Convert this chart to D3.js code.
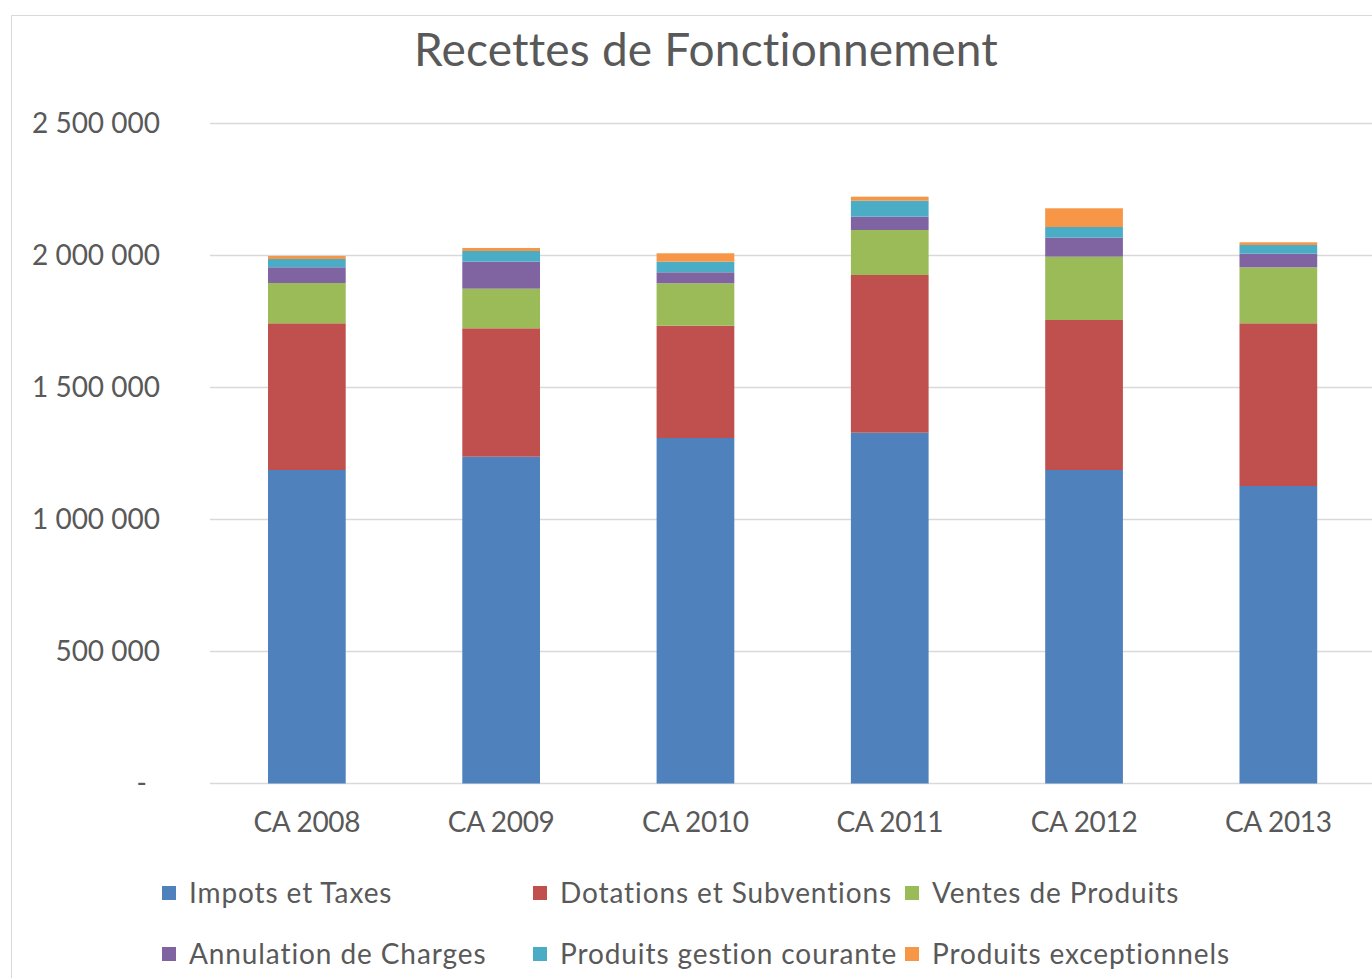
<!DOCTYPE html>
<html>
<head>
<meta charset="utf-8">
<script src="https://cdn.jsdelivr.net/npm/d3@7"></script>
<style>
  html, body { margin: 0; padding: 0; background: #fff; }
  svg { display: block; }
  text { font-family: Lato, "Open Sans", sans-serif; fill: #595959; }
</style>
</head>
<body>
<svg id="chart" width="1372" height="978"></svg>
<script>
// ---- data ----
const categories = ["CA 2008", "CA 2009", "CA 2010", "CA 2011", "CA 2012", "CA 2013"];
const seriesNames = ["Impots et Taxes", "Dotations et Subventions", "Ventes de Produits",
                     "Annulation de Charges", "Produits gestion courante", "Produits exceptionnels"];
const impots        = [1187500, 1237900, 1308700, 1328800, 1187500, 1126900];
const dotations     = [555700, 486400, 425400, 597300, 568200, 616300];
const ventes        = [152700, 150000, 160600, 170500, 239800, 212100];
const annulation    = [59500, 102300, 41700, 50400, 72000, 51500];
const gestion       = [31400, 40500, 40200, 60600, 40500, 33000];
const exceptionnels = [11400, 11400, 31800, 15200, 70800, 10200];
const yTicks = [0, 500000, 1000000, 1500000, 2000000, 2500000];
const yTickLabels = ["-", "500 000", "1 000 000", "1 500 000", "2 000 000", "2 500 000"];
const colors = ["#4F81BD", "#C0504D", "#9BBB59", "#8064A2", "#4BACC6", "#F79646"];
const title = "Recettes de Fonctionnement";

// ---- build ----
const seriesValues = [impots, dotations, ventes, annulation, gestion, exceptionnels];
const rows = categories.map((c, i) => {
  const r = { cat: c };
  seriesNames.forEach((s, k) => r[s] = seriesValues[k][i]);
  return r;
});
const stacked = d3.stack().keys(seriesNames)(rows);

const svg = d3.select("#chart");

// chart border
svg.append("path")
  .attr("d", "M11.5,978 L11.5,15.5 L1372,15.5")
  .attr("fill", "none").attr("stroke", "#D9D9D9").attr("stroke-width", 1);

const x = d3.scaleBand().domain(categories).range([209.7, 1375.5]).paddingInner(0.6).paddingOuter(0.3);
const y = d3.scaleLinear().domain([0, 2500000]).range([783.5, 123.5]);

// gridlines
svg.append("g").selectAll("line").data(yTicks).join("line")
  .attr("x1", 210).attr("x2", 1372)
  .attr("y1", d => y(d)).attr("y2", d => y(d))
  .attr("stroke", "#D9D9D9").attr("stroke-width", 1.5);

// y tick labels
svg.append("g").selectAll("text").data(yTicks).join("text")
  .attr("x", (d, i) => i === 0 ? 147 : 160)
  .attr("y", d => y(d))
  .attr("dy", "0.35em")
  .attr("text-anchor", "end")
  .attr("font-size", 28)
  .attr("letter-spacing", 0)
  .text((d, i) => yTickLabels[i]);

// bars
svg.append("g").selectAll("g").data(stacked).join("g")
  .attr("fill", (d, i) => colors[i])
  .selectAll("rect").data(d => d).join("rect")
  .attr("x", d => x(d.data.cat))
  .attr("width", x.bandwidth())
  .attr("y", d => y(d[1]))
  .attr("height", d => y(d[0]) - y(d[1]));

// x labels
svg.append("g").selectAll("text").data(categories).join("text")
  .attr("x", d => x(d) + x.bandwidth() / 2)
  .attr("y", 822.5)
  .attr("dy", "0.35em")
  .attr("text-anchor", "middle")
  .attr("font-size", 28)
  .attr("letter-spacing", -0.3)
  .text(d => d);

// title
svg.append("text")
  .attr("x", 706).attr("y", 50).attr("dy", "0.35em")
  .attr("text-anchor", "middle")
  .attr("font-size", 46)
  .attr("letter-spacing", 0.2)
  .text(title);

// legend
const legCols = [162, 533, 905];
const legRows = [893, 954];
const leg = svg.append("g").selectAll("g").data(seriesNames).join("g")
  .attr("transform", (d, i) => `translate(${legCols[i % 3]},${legRows[Math.floor(i / 3)]})`);
leg.append("rect").attr("x", 0).attr("y", -7).attr("width", 14).attr("height", 14)
  .attr("fill", (d, i) => colors[i]);
leg.append("text").attr("x", 27).attr("y", 0).attr("dy", "0.35em")
  .attr("font-size", 28).attr("letter-spacing", 0.9)
  .text(d => d);
</script>
</body>
</html>
